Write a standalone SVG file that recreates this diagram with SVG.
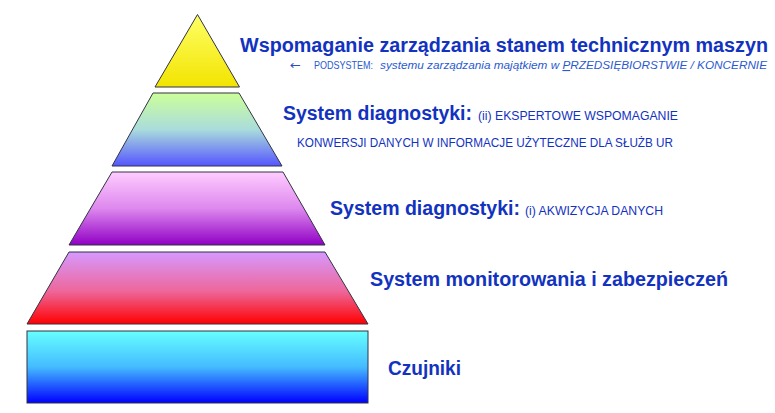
<svg xmlns="http://www.w3.org/2000/svg" width="775" height="413" viewBox="0 0 775 413">
<defs>
<linearGradient id="gY" x1="0" y1="0" x2="0" y2="1"><stop offset="0" stop-color="#ffff66"/><stop offset="1" stop-color="#f2e400"/></linearGradient>
<linearGradient id="gG" x1="0" y1="0" x2="0" y2="1"><stop offset="0" stop-color="#ccff99"/><stop offset="0.5" stop-color="#aadcdc"/><stop offset="1" stop-color="#5555ff"/></linearGradient>
<linearGradient id="gP" x1="0" y1="0" x2="0" y2="1"><stop offset="0" stop-color="#ffccff"/><stop offset="0.5" stop-color="#dd88ee"/><stop offset="1" stop-color="#9000c4"/></linearGradient>
<linearGradient id="gR" x1="0" y1="0" x2="0" y2="1"><stop offset="0" stop-color="#d699ff"/><stop offset="0.55" stop-color="#ee6699"/><stop offset="1" stop-color="#ff0000"/></linearGradient>
<linearGradient id="gC" x1="0" y1="0" x2="0" y2="1"><stop offset="0" stop-color="#66ffff"/><stop offset="0.5" stop-color="#44bbff"/><stop offset="1" stop-color="#0000ff"/></linearGradient>
</defs>
<style>
.layer{stroke:#333344;stroke-width:1}
.t{font-family:"Liberation Sans",Arial,sans-serif;fill:#1232c0}
.b{font-weight:bold;font-size:20px}
.s{font-size:12.5px}
.sub{font-size:11px;fill:#2a5ad0}
.i{font-style:italic}
.arr{font-family:"DejaVu Sans",sans-serif;font-size:12px;fill:#2a4fc0}
</style>
<rect width="775" height="413" fill="#ffffff"/>
<g id="layer1"><polygon class="layer" fill="url(#gY)" points="197.5,14.5 239.5,87 155,87"/></g>
<g id="layer2"><polygon class="layer" fill="url(#gG)" points="153,93 239,93 282,166 112,166"/></g>
<g id="layer3"><polygon class="layer" fill="url(#gP)" points="112,172 283,172 325,245 69,245"/></g>
<g id="layer4"><polygon class="layer" fill="url(#gR)" points="69,252 325,252 368,324 27,324"/></g>
<g id="layer5"><rect class="layer" fill="url(#gC)" x="27" y="331" width="341" height="72"/></g>
<g id="label1">
<text class="t b" x="240" y="52" font-size="21" textLength="528" lengthAdjust="spacingAndGlyphs">Wspomaganie zarządzania stanem technicznym maszyn</text>
<text class="arr" x="290" y="69" textLength="11" lengthAdjust="spacingAndGlyphs">←</text>
<text class="t sub" x="314" y="69" textLength="59" lengthAdjust="spacingAndGlyphs">PODSYSTEM:</text>
<text class="t sub i" x="380" y="69" textLength="387" lengthAdjust="spacingAndGlyphs">systemu zarządzania majątkiem w <tspan text-decoration="underline">P</tspan>RZEDSIĘBIORSTWIE  /  KONCERNIE</text>
</g>
<g id="label2">
<text class="t b" x="283" y="120" textLength="189" lengthAdjust="spacingAndGlyphs">System diagnostyki:</text>
<text class="t s" x="478" y="120" textLength="200" lengthAdjust="spacingAndGlyphs">(ii) EKSPERTOWE WSPOMAGANIE</text>
<text class="t s" x="297" y="147" textLength="376" lengthAdjust="spacingAndGlyphs">KONWERSJI DANYCH W INFORMACJE UŻYTECZNE DLA SŁUŻB UR</text>
</g>
<g id="label3">
<text class="t b" x="330" y="215" textLength="190" lengthAdjust="spacingAndGlyphs">System diagnostyki:</text>
<text class="t s" x="525" y="215" textLength="138" lengthAdjust="spacingAndGlyphs">(i) AKWIZYCJA DANYCH</text>
</g>
<g id="label4">
<text class="t b" x="370" y="286" textLength="358" lengthAdjust="spacingAndGlyphs">System monitorowania i zabezpieczeń</text>
</g>
<g id="label5">
<text class="t b" x="388" y="375" textLength="73" lengthAdjust="spacingAndGlyphs">Czujniki</text>
</g>
</svg>
